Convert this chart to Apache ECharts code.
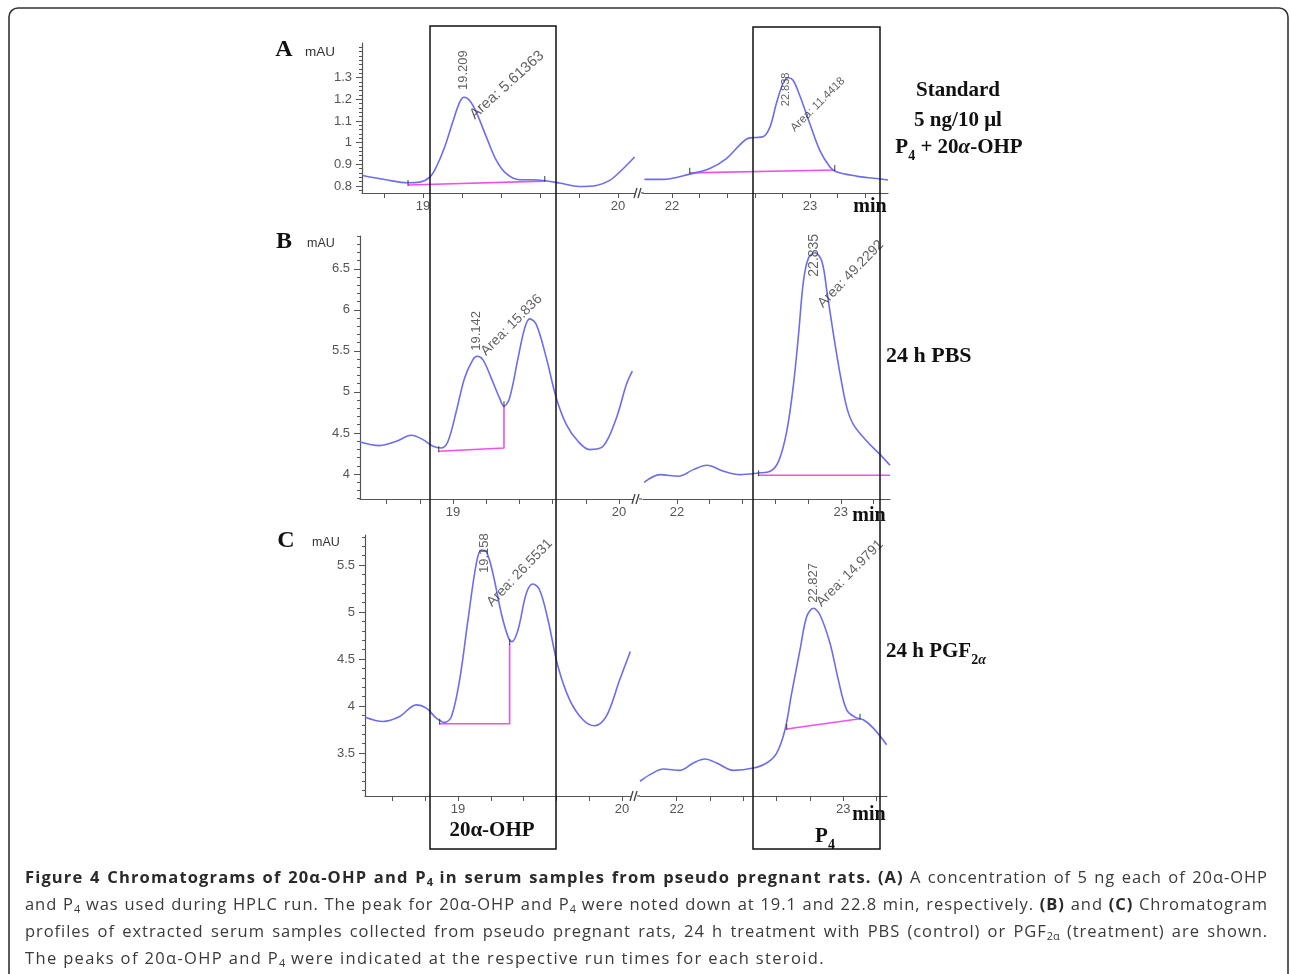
<!DOCTYPE html>
<html><head><meta charset="utf-8">
<script src="https://cdn.jsdelivr.net/npm/echarts@6/dist/echarts.min.js"></script>
<style>
html,body{margin:0;padding:0;background:#fff;}
#chart{position:absolute;left:0;top:0;width:1290px;height:974px;}
#cap{position:absolute;left:25px;top:863px;width:1243px;font-family:"Open Sans","Noto Sans",sans-serif;font-size:16.5px;line-height:27px;color:#3a3a3a;letter-spacing:0.95px;}
#cap div{white-space:nowrap;text-align:justify;text-align-last:justify;}
#cap div.last{text-align-last:left;letter-spacing:1.35px;}
#cap b{color:#2a2a2a;}
#cap b.t{letter-spacing:1.15px;}
#cap sub{font-size:11px;line-height:0;vertical-align:-3px;letter-spacing:0;}
</style></head><body>
<div id="chart"></div>
<div id="cap">
<div><b class="t">Figure 4 Chromatograms of 20α-OHP and P<sub>4</sub> in serum samples from pseudo pregnant rats.</b> <b>(A)</b> A concentration of 5 ng each of 20α-OHP</div>
<div>and P<sub>4</sub> was used during HPLC run. The peak for 20α-OHP and P<sub>4</sub> were noted down at 19.1 and 22.8 min, respectively. <b>(B)</b> and <b>(C)</b> Chromatogram</div>
<div>profiles of extracted serum samples collected from pseudo pregnant rats, 24 h treatment with PBS (control) or PGF<sub>2α</sub> (treatment) are shown.</div>
<div class="last">The peaks of 20α-OHP and P<sub>4</sub> were indicated at the respective run times for each steroid.</div>
</div>
<script>
// ---------------- DATA ----------------
// Panel A (standard)
const aLeftX  = [18.69,18.81,18.92,18.983,19.034,19.068,19.111,19.154,19.188,19.21,19.239,19.273,19.325,19.376,19.427,19.496,19.556,19.615,19.70,19.80,19.889,19.957,20.026,20.085];
const aLeftY  = [0.849,0.829,0.815,0.818,0.841,0.888,0.98,1.10,1.187,1.21,1.195,1.141,1.026,0.918,0.857,0.829,0.829,0.826,0.814,0.798,0.803,0.826,0.88,0.934];
const aRightX = [21.80,21.935,22.128,22.273,22.394,22.49,22.55,22.61,22.66,22.71,22.756,22.804,22.84,22.877,22.925,22.998,23.07,23.143,23.19,23.336,23.48,23.565];
const aRightY = [0.831,0.831,0.855,0.881,0.927,0.989,1.02,1.024,1.027,1.073,1.181,1.273,1.30,1.288,1.219,1.089,0.966,0.889,0.866,0.846,0.835,0.828];
// Panel B (24 h PBS)
const bLeftX  = [18.44,18.558,18.659,18.749,18.819,18.88,18.93,18.97,19.02,19.07,19.12,19.145,19.18,19.23,19.28,19.307,19.341,19.392,19.432,19.462,19.502,19.562,19.622,19.683,19.753,19.823,19.904,19.984,20.044,20.08];
const bLeftY  = [4.39,4.346,4.398,4.472,4.419,4.337,4.317,4.398,4.764,5.171,5.394,5.435,5.394,5.171,4.927,4.825,4.927,5.415,5.78,5.89,5.82,5.415,4.927,4.602,4.398,4.297,4.337,4.683,5.089,5.252];
const bRightX = [21.80,21.898,22.01,22.1,22.183,22.285,22.386,22.498,22.569,22.62,22.67,22.711,22.742,22.772,22.803,22.843,22.884,22.915,22.955,22.996,23.037,23.077,23.159,23.24,23.30];
const bRightY = [3.898,3.992,3.972,4.053,4.106,4.033,3.992,4.012,4.033,4.154,4.52,5.089,5.70,6.35,6.634,6.695,6.593,6.228,5.70,5.211,4.805,4.602,4.398,4.236,4.106];
// Panel C (24 h PGF2a)
const cLeftX  = [18.435,18.543,18.644,18.746,18.807,18.868,18.919,18.96,19.01,19.061,19.112,19.142,19.173,19.213,19.264,19.305,19.329,19.366,19.417,19.457,19.498,19.549,19.61,19.681,19.762,19.833,19.904,19.986,20.051];
const cLeftY  = [3.882,3.836,3.889,4.013,3.978,3.872,3.826,3.889,4.279,4.916,5.518,5.659,5.642,5.411,4.987,4.739,4.686,4.81,5.199,5.298,5.235,4.916,4.42,4.066,3.854,3.79,3.889,4.279,4.58];
const cRightX = [21.78,21.84,21.92,22.02,22.1,22.17,22.24,22.34,22.46,22.54,22.6,22.65,22.69,22.74,22.78,22.82,22.86,22.92,22.97,23.02,23.07,23.12,23.18,23.26];
const cRightY = [3.2,3.27,3.33,3.316,3.394,3.436,3.394,3.316,3.34,3.394,3.5,3.748,4.137,4.597,4.951,5.04,4.969,4.668,4.279,3.96,3.882,3.854,3.765,3.588];

// Integration baselines (magenta)
const aLeftBaseX  = [18.923,19.624];           const aLeftBaseY  = [0.805,0.823];
const aRightBaseX = [22.128,23.179];           const aRightBaseY = [0.861,0.874];
const bLeftBaseX  = [18.914,19.307,19.307];    const bLeftBaseY  = [4.276,4.317,4.825];
const bRightBaseX = [22.498,23.30];            const bRightBaseY = [3.984,3.984];
const cLeftBaseX  = [18.888,19.315,19.315];    const cLeftBaseY  = [3.811,3.811,4.66];
const cRightBaseX = [22.66,23.10];             const cRightBaseY = [3.755,3.865];
// which baseline points carry an integration tick mark
const baseTickIdx = [[0,1],[0,1],[0,2],[0],[0,2],[0,1]];

// Peak annotations: text, x, y
const aLeftNotes  = [['19.209',19.209,1.241],['Area: 5.61363',19.253,1.118]];
const aRightNotes = [['22.838',22.828,1.166],['Area: 11.4418',22.877,1.058]];
const bLeftNotes  = [['19.142',19.145,5.496],['Area: 15.836',19.185,5.463]];
const bRightNotes = [['22.835',22.839,6.398],['Area: 49.2292',22.878,6.045]];
const cLeftNotes  = [['19.158',19.167,5.41],['Area: 26.5531',19.193,5.075]];
const cRightNotes = [['22.827',22.826,5.093],['Area: 14.9791',22.856,5.075]];

// Axis ranges and ticks
const xRanges = [[18.687,20.087],[21.797,23.565],[18.44,20.084],[21.793,23.30],[18.433,20.055],[21.78,23.262]];
const yRanges = [[0.768,1.46],[3.695,6.9],[3.043,5.82]];
const xTicksLeftA  = [18.8,19,19.2,19.4,19.6,19.8,20];
const xTicksLeftBC = [18.6,18.8,19,19.2,19.4,19.6,19.8,20];
const xTicksRightA = [22,22.2,22.4,22.6,22.8,23,23.2,23.4];
const xTicksRightBC= [22,22.2,22.4,22.6,22.8,23,23.2];
const xLabelsLeft  = [19,20];
const xLabelsRight = [22,23];
const yLabelsA = [0.8,0.9,1,1.1,1.2,1.3];
const yLabelsB = [4,4.5,5,5.5,6,6.5];
const yLabelsC = [3.5,4,4.5,5,5.5];
const yMinorA = [0.78,0.8,0.82,0.84,0.86,0.88,0.9,0.92,0.94,0.96,0.98,1,1.02,1.04,1.06,1.08,1.1,1.12,1.14,1.16,1.18,1.2,1.22,1.24,1.26,1.28,1.3,1.32,1.34,1.36,1.38,1.4,1.42,1.44];
const yMinorB = [3.7,3.8,3.9,4,4.1,4.2,4.3,4.4,4.5,4.6,4.7,4.8,4.9,5,5.1,5.2,5.3,5.4,5.5,5.6,5.7,5.8,5.9,6,6.1,6.2,6.3,6.4,6.5,6.6,6.7,6.8,6.9];
const yMinorC = [3.1,3.2,3.3,3.4,3.5,3.6,3.7,3.8,3.9,4,4.1,4.2,4.3,4.4,4.5,4.6,4.7,4.8,4.9,5,5.1,5.2,5.3,5.4,5.5,5.6,5.7,5.8];

// ---------------- LAYOUT / STYLE ----------------
const SANS = '"Liberation Sans", Arial, sans-serif';
const SERIF = '"Liberation Serif", "Times New Roman", serif';
const CURVE = '#6d6dec';
const BASE = '#f050ea';
const AXIS = '#555';

const grids = [
  {left:362, top:43,  width:273, height:150},
  {left:644, top:43,  width:244, height:150},
  {left:360, top:236, width:273, height:263},
  {left:643, top:236, width:247, height:263},
  {left:365, top:535, width:266, height:261},
  {left:640, top:535, width:247, height:261}
];

const zip = (xs, ys) => xs.map((x, i) => [x, ys[i]]);

const xTickSets = [xTicksLeftA, xTicksRightA, xTicksLeftBC, xTicksRightBC, xTicksLeftBC, xTicksRightBC];
const xLabelSets = [xLabelsLeft, xLabelsRight, xLabelsLeft, xLabelsRight, xLabelsLeft, xLabelsRight];
const xAxes = grids.map((g, i) => ({
  type:'value', gridIndex:i, min:xRanges[i][0], max:xRanges[i][1],
  axisLine:{show:true, onZero:false, lineStyle:{color:AXIS, width:1.2}},
  axisTick:{show:true, customValues:xTickSets[i], length:5, lineStyle:{color:AXIS, width:1}},
  axisLabel:{show:true, customValues:xLabelSets[i], color:'#555', fontSize:13, fontFamily:SANS, margin:7},
  splitLine:{show:false}
}));

const yLabelSets = [yLabelsA, yLabelsB, yLabelsC];
const yMinorSets = [yMinorA, yMinorB, yMinorC];
const yAxes = [];
grids.forEach((g, i) => {
  const p = Math.floor(i / 2);
  const isLeft = i % 2 === 0;
  yAxes.push({
    type:'value', gridIndex:i, min:yRanges[p][0], max:yRanges[p][1], position:'left',
    show:isLeft,
    axisLine:{show:true, onZero:false, lineStyle:{color:AXIS, width:1.2}},
    axisTick:{show:true, customValues:yLabelSets[p], length:6, lineStyle:{color:AXIS, width:1}},
    axisLabel:{show:true, customValues:yLabelSets[p], color:'#555', fontSize:13, fontFamily:SANS, margin:10},
    splitLine:{show:false}
  });
});
[0,2,4].forEach((gi) => {
  const p = gi / 2;
  yAxes.push({
    type:'value', gridIndex:gi, min:yRanges[p][0], max:yRanges[p][1], position:'left', offset:0,
    axisLine:{show:false, onZero:false},
    axisTick:{show:true, customValues:yMinorSets[p], length:3, lineStyle:{color:AXIS, width:1}},
    axisLabel:{show:false},
    splitLine:{show:false}
  });
});

const curves = [zip(aLeftX,aLeftY), zip(aRightX,aRightY), zip(bLeftX,bLeftY), zip(bRightX,bRightY), zip(cLeftX,cLeftY), zip(cRightX,cRightY)];
const bases = [zip(aLeftBaseX,aLeftBaseY), zip(aRightBaseX,aRightBaseY), zip(bLeftBaseX,bLeftBaseY), zip(bRightBaseX,bRightBaseY), zip(cLeftBaseX,cLeftBaseY), zip(cRightBaseX,cRightBaseY)];
const notes = [aLeftNotes, aRightNotes, bLeftNotes, bRightNotes, cLeftNotes, cRightNotes];
const noteStyle = [ // [vertical font, area font, area angle]
  [13, 15, 42], [11, 11.5, 45], [13, 14, 45], [14, 14, 46], [13, 14, 46], [13, 14, 45]
];

const series = [];
grids.forEach((g, i) => {
  series.push({
    type:'line', xAxisIndex:i, yAxisIndex:i, data:curves[i], smooth:0.35, showSymbol:false,
    lineStyle:{color:CURVE, width:1.6}, z:3, silent:true
  });
  series.push({
    type:'line', xAxisIndex:i, yAxisIndex:i, data:bases[i], smooth:false, showSymbol:false,
    lineStyle:{color:BASE, width:1.6}, z:2, silent:true
  });
  const b = bases[i];
  series.push({
    type:'scatter', xAxisIndex:i, yAxisIndex:i, data:baseTickIdx[i].map(k => b[k]),
    symbol:'rect', symbolSize:[1.2,6], symbolOffset:[0,-2], itemStyle:{color:'#333'}, z:4, silent:true
  });
  const ns = noteStyle[i];
  series.push({
    type:'scatter', xAxisIndex:i, yAxisIndex:i, symbolSize:1, itemStyle:{color:'rgba(0,0,0,0)'}, z:5, silent:true,
    data: notes[i].map((n, k) => ({
      value:[n[1], n[2]],
      label:{show:true, formatter:n[0], position:[0,0], align:'left', verticalAlign:'middle',
             rotate: k === 0 ? 90 : ns[2], fontSize: k === 0 ? ns[0] : ns[1],
             fontFamily:SANS, color:'#3a3a3a'}
    }))
  });
});

// ---------------- GRAPHICS (frame, boxes, text) ----------------
const t = (text, x, y, o) => ({type:'text', z:20, style:Object.assign({text, x, y, fill:'#111', align:'center', verticalAlign:'middle'}, o)});
const serifBold = (size) => ({fontFamily:SERIF, fontWeight:'bold', fontSize:size});
const richSub = {
  b:{fontFamily:SERIF, fontWeight:'bold', fontSize:21, lineHeight:24, verticalAlign:'top', fill:'#111'},
  s:{fontFamily:SERIF, fontWeight:'bold', fontSize:14, lineHeight:14, verticalAlign:'top', padding:[12,0,0,0], fill:'#111'},
  i:{fontFamily:SERIF, fontWeight:'bold', fontStyle:'italic', fontSize:21, lineHeight:24, verticalAlign:'top', fill:'#111'},
  si:{fontFamily:SERIF, fontWeight:'bold', fontStyle:'italic', fontSize:14, lineHeight:14, verticalAlign:'top', padding:[12,0,0,0], fill:'#111'}
};

const breakMarks = [];
[[grids[0], 193],[grids[2], 499],[grids[4], 796]].forEach(([g, y]) => {
  const bx = g.left + g.width + 3;
  breakMarks.push({type:'line', z:20, shape:{x1:bx-4, y1:y+5, x2:bx-1, y2:y-5}, style:{stroke:'#444', lineWidth:1.3}});
  breakMarks.push({type:'line', z:20, shape:{x1:bx, y1:y+5, x2:bx+3, y2:y-5}, style:{stroke:'#444', lineWidth:1.3}});
  breakMarks.push({type:'line', z:20, shape:{x1:bx+3, y1:y, x2:bx+6, y2:y}, style:{stroke:AXIS, lineWidth:1.2}});
});

const graphic = [
  {type:'rect', z:1, shape:{x:9, y:8, width:1279, height:1000, r:9}, style:{fill:'none', stroke:'#333', lineWidth:1.6}},
  {type:'rect', z:21, shape:{x:430, y:26, width:126, height:823}, style:{fill:'none', stroke:'#111', lineWidth:1.5}},
  {type:'rect', z:21, shape:{x:753, y:27, width:127, height:822}, style:{fill:'none', stroke:'#111', lineWidth:1.5}},
  t('A', 284, 50, serifBold(24)),
  t('B', 284, 242, serifBold(24)),
  t('C', 286, 541, serifBold(24)),
  t('mAU', 320, 52, {fontFamily:SANS, fontSize:13.5, fill:'#333'}),
  t('mAU', 321, 244, {fontFamily:SANS, fontSize:12.5, fill:'#333'}),
  t('mAU', 326, 543, {fontFamily:SANS, fontSize:12.5, fill:'#333'}),
  t('Standard', 958, 91, serifBold(21)),
  t('5 ng/10 μl', 958, 121, serifBold(21)),
  {type:'text', z:20, style:{text:'{b|P}{s|4}{b| + 20}{i|α}{b|-OHP}', rich:richSub, x:959, y:149, align:'center', verticalAlign:'middle'}},
  t('24 h PBS', 886, 356, Object.assign(serifBold(22), {align:'left'})),
  {type:'text', z:20, style:{text:'{b|24 h PGF}{s|2}{si|α}', rich:richSub, x:886, y:653, align:'left', verticalAlign:'middle'}},
  t('min', 870, 207, serifBold(20)),
  t('min', 869, 516, serifBold(20)),
  t('min', 869, 815, serifBold(20)),
  t('20α-OHP', 492, 831, serifBold(21)),
  {type:'text', z:20, style:{text:'{b|P}{s|4}', rich:richSub, x:825, y:838, align:'center', verticalAlign:'middle'}}
].concat(breakMarks);

const chart = echarts.init(document.getElementById('chart'), null, {renderer:'canvas'});
chart.setOption({
  animation:false,
  backgroundColor:'#fff',
  grid:grids,
  xAxis:xAxes,
  yAxis:yAxes,
  series:series,
  graphic:graphic
});
</script>
</body></html>
